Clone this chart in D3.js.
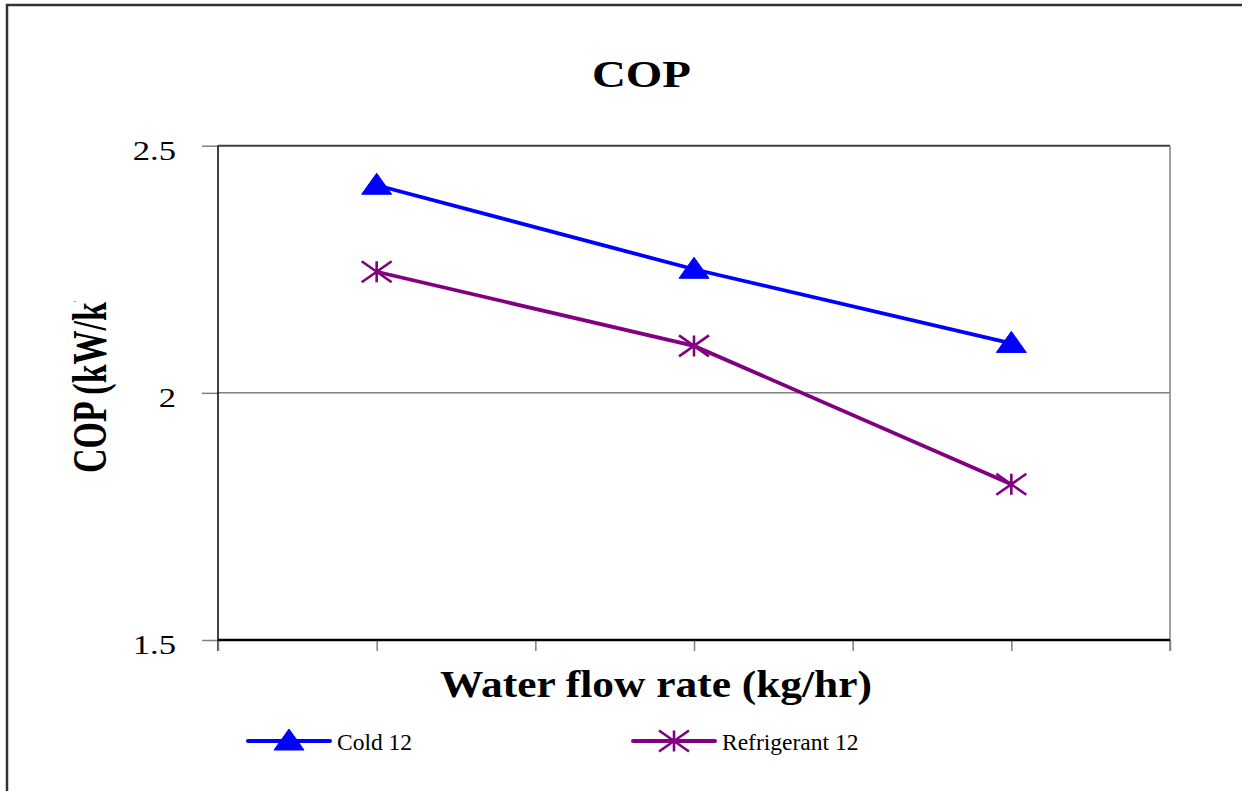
<!DOCTYPE html>
<html>
<head>
<meta charset="utf-8">
<script src="https://cdn.jsdelivr.net/npm/d3@7"></script>
<style>
  body { margin: 0; background: #fff; }
  svg { display: block; }
  text { font-family: "Liberation Serif", "Times New Roman", serif; fill: #000; }
</style>
</head>
<body>
<svg id="chart" width="1242" height="791"></svg>
<script>
// data
var flowPos = [1, 3, 5];                 // position of each flow-rate category (labels hidden)
var cold12 = [2.42, 2.25, 2.10];
var refrigerant12 = [2.245, 2.095, 1.815];
var yTicks = [1.5, 2, 2.5];
var xTicks = [0, 1, 2, 3, 4, 5, 6];
var seriesNames = ["Cold 12", "Refrigerant 12"];
var seriesColors = ["#0000ff", "#800080"];

var svg = d3.select("#chart");
var plotLeft = 218, plotRight = 1170, plotTop = 145.7, plotBottom = 640;

var x = d3.scaleLinear().domain([0, 6]).range([plotLeft, plotRight]);
var y = d3.scaleLinear().domain([1.5, 2.5]).range([plotBottom, plotTop]);

// outer chart frame (only top and left edges visible)
svg.append("path")
  .attr("d", "M7,791V5H1242")
  .attr("fill", "none")
  .attr("stroke", "#333")
  .attr("stroke-width", 2.5);

// title
svg.append("text")
  .attr("x", 641.5).attr("y", 86.7)
  .attr("text-anchor", "middle")
  .attr("font-size", 38).attr("font-weight", "bold")
  .attr("textLength", 99).attr("lengthAdjust", "spacingAndGlyphs")
  .text("COP");

// gridline at 2
svg.append("line")
  .attr("x1", plotLeft).attr("x2", plotRight)
  .attr("y1", y(2)).attr("y2", y(2))
  .attr("stroke", "#808080").attr("stroke-width", 1.5);

// plot frame: top and right
svg.append("line")
  .attr("x1", plotLeft).attr("x2", plotRight)
  .attr("y1", y(2.5)).attr("y2", y(2.5))
  .attr("stroke", "#404040").attr("stroke-width", 2);
svg.append("line")
  .attr("x1", plotRight).attr("x2", plotRight)
  .attr("y1", plotTop).attr("y2", plotBottom + 11)
  .attr("stroke", "#808080").attr("stroke-width", 1.5);

// y axis
var yAxis = svg.append("g")
  .attr("transform", "translate(" + plotLeft + ",0)")
  .call(d3.axisLeft(y).tickValues(yTicks).tickSize(16).tickPadding(26)
    .tickFormat(function(d) { return String(d); }));
yAxis.select(".domain").remove();
yAxis.selectAll(".tick line").attr("stroke", "#808080").attr("stroke-width", 1.5);
yAxis.selectAll(".tick text")
  .attr("font-size", 27)
  .attr("font-family", "Liberation Serif")
  .attr("dy", null)
  .attr("y", 13.5)
  .attr("fill", "#000")
  .each(function() {
    var len = this.getComputedTextLength();
    d3.select(this).attr("textLength", len * 1.28).attr("lengthAdjust", "spacingAndGlyphs");
  });

svg.append("line")
  .attr("x1", plotLeft).attr("x2", plotLeft)
  .attr("y1", plotTop).attr("y2", plotBottom + 11)
  .attr("stroke", "#000").attr("stroke-width", 1.5);

// x axis (ticks only, no labels)
var xAxis = svg.append("g")
  .attr("transform", "translate(0," + plotBottom + ")")
  .call(d3.axisBottom(x).tickValues(xTicks).tickSize(11).tickFormat(""));
xAxis.select(".domain").remove();
xAxis.selectAll(".tick line").attr("stroke", "#808080").attr("stroke-width", 1.5);
svg.append("line")
  .attr("x1", plotLeft).attr("x2", plotRight)
  .attr("y1", plotBottom).attr("y2", plotBottom)
  .attr("stroke", "#000").attr("stroke-width", 2.5);

// axis titles
svg.append("text")
  .attr("x", 656).attr("y", 697)
  .attr("text-anchor", "middle")
  .attr("font-size", 38).attr("font-weight", "bold")
  .attr("textLength", 432).attr("lengthAdjust", "spacingAndGlyphs")
  .text("Water flow rate (kg/hr)");

svg.append("clipPath").attr("id", "ytclip")
  .append("rect").attr("x", 0).attr("y", 301).attr("width", 200).attr("height", 300);
svg.append("g").attr("clip-path", "url(#ytclip)")
  .append("text")
  .attr("transform", "translate(106,473) rotate(-90) scale(1,1.45)")
  .attr("font-size", 34).attr("font-weight", "bold")
  .text("COP (kW/kW)");

// markers
var triangle = "M0,-12L15,9L-15,9Z";
var star = "M0,-10.5V10.5M-15,-10.5L15,10.5M-15,10.5L15,-10.5";

function drawSeries(values, color, marker, filled) {
  var line = d3.line()
    .x(function(d, i) { return x(flowPos[i]); })
    .y(function(d) { return y(d); });
  svg.append("path")
    .datum(values)
    .attr("d", line)
    .attr("fill", "none")
    .attr("stroke", color)
    .attr("stroke-width", 3.8);
  svg.selectAll(null)
    .data(values)
    .enter().append("path")
    .attr("transform", function(d, i) { return "translate(" + x(flowPos[i]) + "," + y(d) + ")"; })
    .attr("d", marker)
    .attr("fill", filled ? color : "none")
    .attr("stroke", color)
    .attr("stroke-width", filled ? 1 : 2.6);
}

drawSeries(cold12, seriesColors[0], triangle, true);
drawSeries(refrigerant12, seriesColors[1], star, false);

// legend
var legendItems = [
  { name: seriesNames[0], color: seriesColors[0], marker: triangle, filled: true, x: 248 },
  { name: seriesNames[1], color: seriesColors[1], marker: star, filled: false, x: 633 }
];
var lg = svg.selectAll(".legend").data(legendItems).enter().append("g")
  .attr("class", "legend")
  .attr("transform", function(d) { return "translate(" + d.x + ",741)"; });
lg.append("line")
  .attr("x1", 0).attr("x2", 82)
  .attr("stroke", function(d) { return d.color; })
  .attr("stroke-width", 4)
  .attr("stroke-linecap", "round");
lg.append("path")
  .attr("transform", "translate(41,0)")
  .attr("d", function(d) { return d.marker; })
  .attr("fill", function(d) { return d.filled ? d.color : "none"; })
  .attr("stroke", function(d) { return d.color; })
  .attr("stroke-width", function(d) { return d.filled ? 1 : 2.6; });
lg.append("text")
  .attr("x", 89).attr("y", 9)
  .attr("font-size", 23.5)
  .text(function(d) { return d.name; });
</script>
</body>
</html>
